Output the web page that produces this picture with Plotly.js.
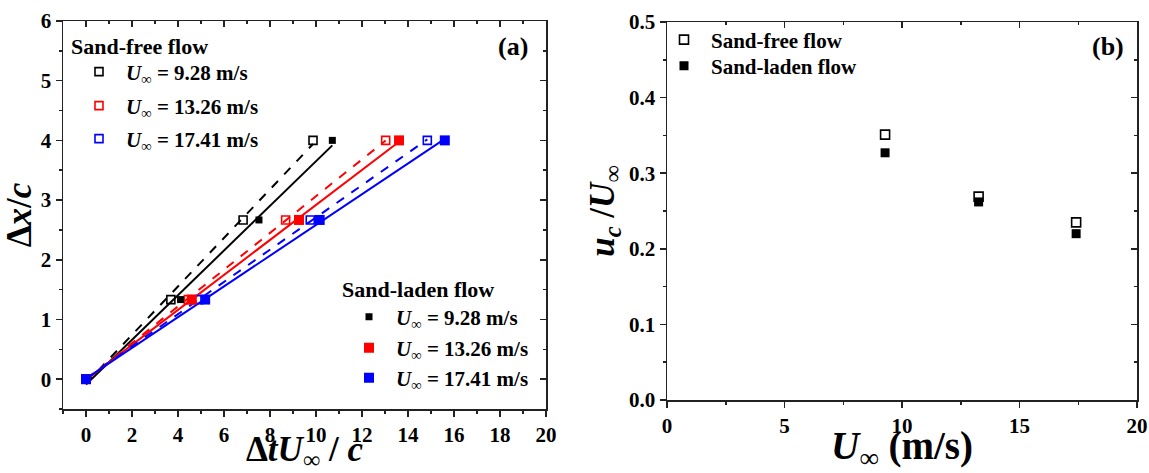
<!DOCTYPE html>
<html>
<head>
<meta charset="utf-8">
<script src="https://cdn.plot.ly/plotly-3.0.1.min.js"></script>
<style>html,body{margin:0;padding:0;background:#fff;}#chart{width:1149px;height:473px;}</style>
</head>
<body>
<div id="chart"></div>
<script>
// ---- data ----
const speeds = [9.28, 13.26, 17.41];
const speedLabels = ["9.28", "13.26", "17.41"];
const colors = ["#000000", "#ff0000", "#0000ff"];
const dxc = [0, 1.333, 2.667, 4];                       // Δx/c
const sandFreeT_928 = [0, 3.69, 6.83, 9.87];            // ΔtU∞/c, sand-free
const sandFreeT_1326 = [0, 4.45, 8.68, 13.03];
const sandFreeT_1741 = [0, 4.90, 9.75, 14.84];
const sandLadenT_928 = [0, 4.11, 7.52, 10.71];          // ΔtU∞/c, sand-laden
const sandLadenT_1326 = [0, 4.60, 9.26, 13.61];
const sandLadenT_1741 = [0, 5.18, 10.16, 15.60];
const ucSandFree = [0.351, 0.269, 0.235];              // uc/U∞
const ucSandLaden = [0.327, 0.262, 0.220];

const sandFree = [sandFreeT_928, sandFreeT_1326, sandFreeT_1741];
const sandLaden = [sandLadenT_928, sandLadenT_1326, sandLadenT_1741];

const FONT = "Liberation Serif, Times New Roman, serif";
const W = 1149, H = 473;

function fit(xs, ys) {
  const n = xs.length;
  const mx = xs.reduce((a, b) => a + b, 0) / n;
  const my = ys.reduce((a, b) => a + b, 0) / n;
  let sxy = 0, sxx = 0;
  for (let i = 0; i < n; i++) { sxy += (xs[i] - mx) * (ys[i] - my); sxx += (xs[i] - mx) ** 2; }
  const k = sxy / sxx, b = my - k * mx;
  const x0 = Math.min(...xs), x1 = Math.max(...xs);
  return { x: [x0, x1], y: [k * x0 + b, k * x1 + b] };
}

const uLabel = s => "<i>U</i><sub><i>∞</i></sub> = " + s + " m/s";

// page geometry
const mL = 63, mR = W - 1137, mT = 21, mB = H - 409;
const pw = W - mL - mR, ph = H - mT - mB;
const dx = (a, b) => [(a - mL) / pw, (b - mL) / pw];
const dy = (top, bot) => [(H - mB - bot) / ph, (H - mB - top) / ph];
const px = v => (v - mL) / pw;
const py = v => (H - mB - v) / ph;

const font = (size) => ({ family: FONT, size: size, weight: "bold", color: "#000" });
const legName = i => (i === 1 ? "legend" : "legend" + i);
const legendSlots = {
  free: [[97, 72], [97, 106], [97, 139]],
  laden: [[367, 317], [367, 348], [367, 378]],
  b: [[682, 40], [682, 66]]
};
const layoutLegends = {};
function makeLegend(idx, mx, my) {
  layoutLegends[legName(idx)] = { x: px(mx - 25), y: py(my), xanchor: "left", yanchor: "middle",
    bgcolor: "rgba(0,0,0,0)", borderwidth: 0, itemwidth: 44, font: font(21) };
  return legName(idx);
}

const traces = [];
for (let i = 0; i < 3; i++) {
  const f1 = fit(sandFree[i], dxc);
  traces.push({ x: f1.x, y: f1.y, mode: "lines", line: { color: colors[i], width: 2, dash: "dash" },
    showlegend: false, hoverinfo: "skip", xaxis: "x", yaxis: "y" });
  const f2 = fit(sandLaden[i], dxc);
  traces.push({ x: f2.x, y: f2.y, mode: "lines", line: { color: colors[i], width: 2 },
    showlegend: false, hoverinfo: "skip", xaxis: "x", yaxis: "y" });
}
let li = 1;
for (let i = 0; i < 3; i++) {
  const lg = makeLegend(li++, legendSlots.free[i][0], legendSlots.free[i][1]);
  traces.push({ x: sandFree[i], y: dxc, mode: "markers", name: uLabel(speedLabels[i]),
    marker: { symbol: "square-open", size: 8, color: colors[i], line: { width: 1.6, color: colors[i] } },
    legend: lg, xaxis: "x", yaxis: "y" });
}
const ladenSizes = [7, 10, 10];
for (let i = 0; i < 3; i++) {
  const lg = makeLegend(li++, legendSlots.laden[i][0], legendSlots.laden[i][1]);
  traces.push({ x: sandLaden[i], y: dxc, mode: "markers", name: uLabel(speedLabels[i]),
    marker: { symbol: "square", size: ladenSizes[i], color: colors[i], line: { width: 0 } },
    legend: lg, xaxis: "x", yaxis: "y" });
}
traces.push({ x: speeds, y: ucSandFree, mode: "markers", name: "Sand-free flow",
  marker: { symbol: "square-open", size: 9, color: "#000", line: { width: 1.6, color: "#000" } },
  legend: makeLegend(li++, legendSlots.b[0][0], legendSlots.b[0][1]), xaxis: "x2", yaxis: "y2" });
traces.push({ x: speeds, y: ucSandLaden, mode: "markers", name: "Sand-laden flow",
  marker: { symbol: "square", size: 9, color: "#000" },
  legend: makeLegend(li++, legendSlots.b[1][0], legendSlots.b[1][1]), xaxis: "x2", yaxis: "y2" });
traces.push({ x: [], y: [], xaxis: "x3", yaxis: "y3", showlegend: false, hoverinfo: "skip" });
traces.push({ x: [], y: [], xaxis: "x4", yaxis: "y4", showlegend: false, hoverinfo: "skip" });

const axisCommon = () => ({ showgrid: false, zeroline: false, showline: true, linecolor: "#222", linewidth: 1.5,
  ticks: "outside", ticklen: 6, tickwidth: 1.5, tickcolor: "#222", automargin: false,
  tickfont: { family: FONT, size: 21, color: "#000", weight: "bold" } });
const mirrorCommon = () => ({ showgrid: false, zeroline: false, showline: true, linecolor: "#222", linewidth: 1.5,
  ticks: "inside", ticklen: 6, tickwidth: 1.5, tickcolor: "#222", showticklabels: false });
const minorOut = (d, t0) => ({ dtick: d, tick0: t0, ticks: "outside", ticklen: 3, tickwidth: 1.5, tickcolor: "#222" });
const minorIn = (d, t0) => ({ dtick: d, tick0: t0, ticks: "inside", ticklen: 3, tickwidth: 1.5, tickcolor: "#222" });

const xA = dx(63, 546), yA = dy(21, 409);
const xB = dx(667, 1137), yB = dy(22, 400);

const layout = Object.assign({
  width: W, height: H,
  margin: { l: mL, r: mR, t: mT, b: mB, autoexpand: false },
  paper_bgcolor: "#fff", plot_bgcolor: "#fff",
  font: { family: FONT, color: "#000", size: 21, weight: "bold" },
  showlegend: true,
  xaxis: Object.assign(axisCommon(), { domain: xA, anchor: "y", range: [-1, 20], dtick: 2, tick0: 0,
    minor: minorOut(1, 1),
    title: { text: "Δ<i>tU</i><sub><i>∞</i></sub> / <i>c</i>", font: font(35), standoff: 8 } }),
  yaxis: Object.assign(axisCommon(), { domain: yA, anchor: "x", range: [-0.5, 6], dtick: 1, tick0: 0,
    minor: minorOut(0.5, 0.5),
    title: { text: "Δ<i>x</i>/<i>c</i>", font: font(35), standoff: 6 } }),
  xaxis3: Object.assign(mirrorCommon(), { overlaying: "x", anchor: "y3", side: "top", range: [-1, 20], dtick: 2, tick0: 0,
    minor: minorIn(1, 1) }),
  yaxis3: Object.assign(mirrorCommon(), { overlaying: "y", anchor: "x3", side: "right", range: [-0.5, 6], dtick: 1, tick0: 0,
    minor: minorIn(0.5, 0.5) }),
  xaxis2: Object.assign(axisCommon(), { domain: xB, anchor: "y2", range: [0, 20], dtick: 5, tick0: 0,
    minor: minorOut(2.5, 0),
    title: { text: "<i>U</i><sub><i>∞</i></sub> (m/s)", font: font(39), standoff: 2 } }),
  yaxis2: Object.assign(axisCommon(), { domain: yB, anchor: "x2", range: [0, 0.5], dtick: 0.1, tick0: 0, tickformat: ".1f",
    minor: minorOut(0.05, 0),
    title: { text: "<i>u</i><sub><i>c</i></sub> /<i>U</i><sub><i>∞</i></sub>", font: font(35), standoff: 4 } }),
  xaxis4: Object.assign(mirrorCommon(), { overlaying: "x2", anchor: "y4", side: "top", range: [0, 20], dtick: 5, tick0: 0,
    minor: minorIn(2.5, 0) }),
  yaxis4: Object.assign(mirrorCommon(), { overlaying: "y2", anchor: "x4", side: "right", range: [0, 0.5], dtick: 0.1, tick0: 0,
    minor: minorIn(0.05, 0) }),
  annotations: [
    { text: "Sand-free flow", xref: "paper", yref: "paper", x: px(69), y: py(47), xanchor: "left", yanchor: "middle",
      showarrow: false, font: font(22) },
    { text: "Sand-laden flow", xref: "paper", yref: "paper", x: px(340), y: py(289), xanchor: "left", yanchor: "middle",
      showarrow: false, font: font(22) },
    { text: "(a)", xref: "paper", yref: "paper", x: px(513), y: py(47), xanchor: "center", yanchor: "middle", showarrow: false,
      font: font(26) },
    { text: "(b)", xref: "paper", yref: "paper", x: px(1108), y: py(47), xanchor: "center", yanchor: "middle", showarrow: false,
      font: font(26) }
  ]
}, layoutLegends);

Plotly.newPlot("chart", traces, layout, { displayModeBar: false, staticPlot: true });
</script>
</body>
</html>
